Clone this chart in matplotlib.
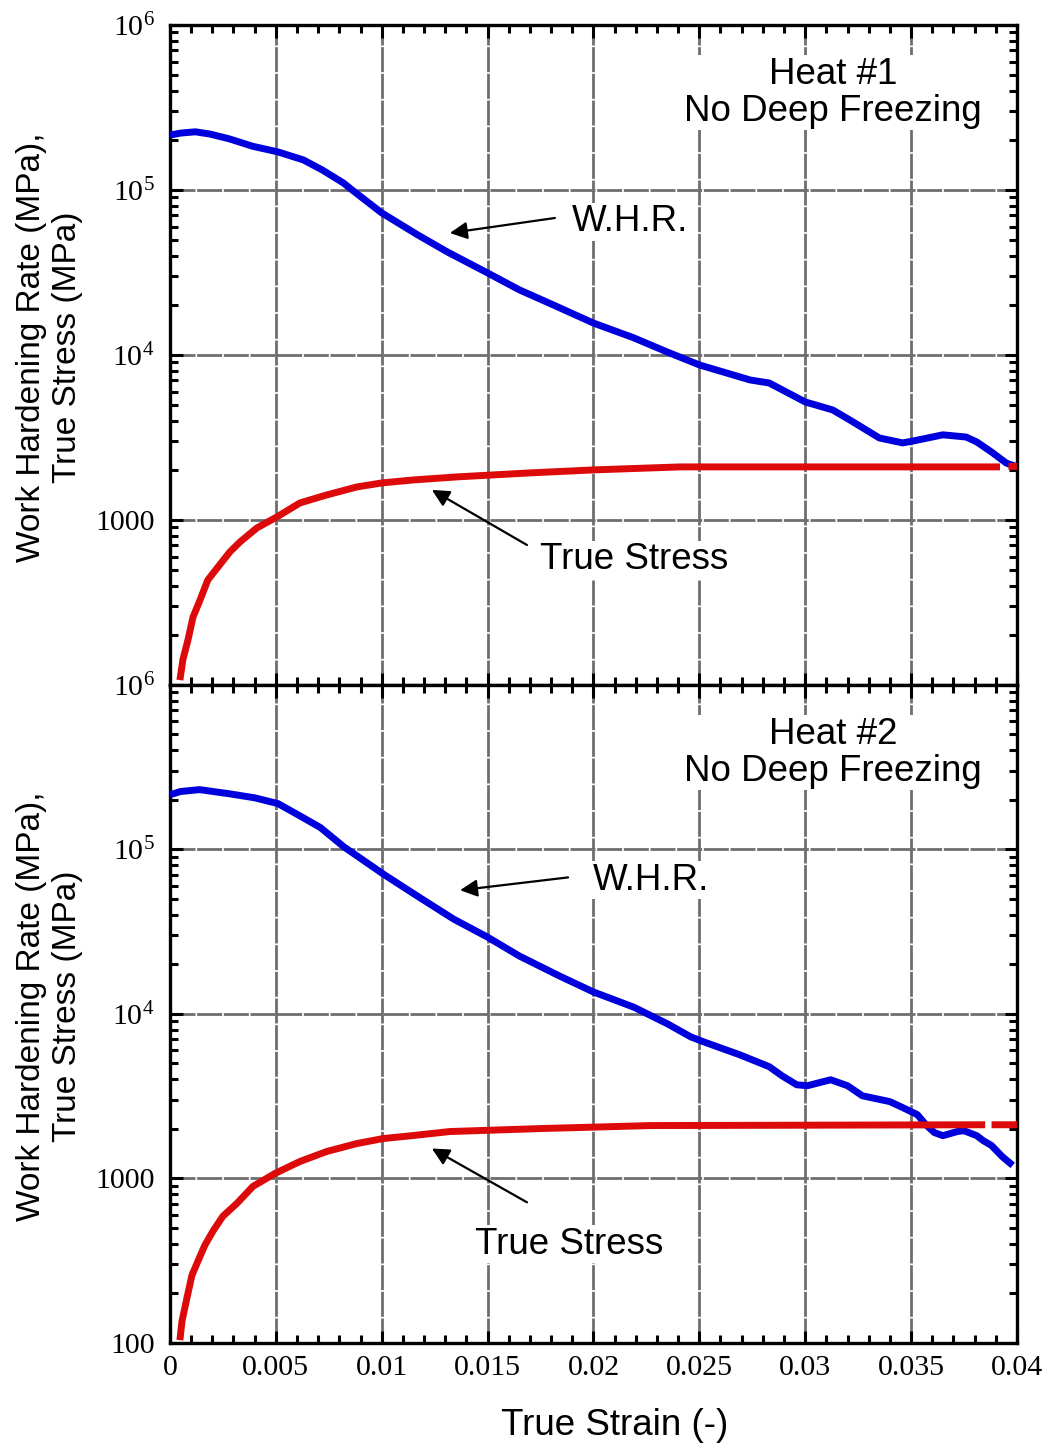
import numpy as np
import matplotlib
matplotlib.use("Agg")
import matplotlib.pyplot as plt
from matplotlib.ticker import LogLocator, MultipleLocator, FixedLocator, FuncFormatter, NullFormatter

plt.rcParams['mathtext.fontset'] = 'custom'
plt.rcParams['mathtext.rm'] = 'Liberation Serif'
plt.rcParams['mathtext.it'] = 'Liberation Serif:italic'

# Heat #1 work hardening rate (MPa) vs true strain
strain_whr1 = [0.0, 0.0005, 0.0012, 0.0019, 0.0028, 0.0039, 0.0051, 0.0063, 0.0072, 0.0082,
               0.0086, 0.0100, 0.0117, 0.0131, 0.0150, 0.0165, 0.0181, 0.0200, 0.0219, 0.0235,
               0.0250, 0.0274, 0.0283, 0.0300, 0.0313, 0.0321, 0.0335, 0.0346, 0.0351, 0.0365,
               0.0376, 0.0381, 0.0388, 0.0395, 0.0400]
whr1 = [215000, 221000, 225000, 218000, 204000, 184000, 170000, 152000, 132000, 110000,
        100000, 72600, 53400, 42100, 31400, 24800, 20100, 15600, 12700, 10400,
        8700, 7050, 6760, 5190, 4640, 4040, 3140, 2930, 3010, 3280,
        3180, 2970, 2580, 2210, 2100]

# Heat #1 true stress (MPa)
strain_ts1 = [0.00047, 0.00061, 0.00085, 0.00109, 0.00142, 0.00179, 0.00227, 0.00283, 0.00331,
              0.00411, 0.00505, 0.00614, 0.00741, 0.00883, 0.01001, 0.01148, 0.01355, 0.0170,
              0.0200, 0.0241, 0.0392, np.nan, 0.0396, 0.0400]
ts1 = [107, 142, 187, 258, 327, 433, 519, 640, 736,
       895, 1043, 1268, 1418, 1585, 1676, 1747, 1823, 1928,
       2010, 2096, 2096, np.nan, 2110, 2110]

# Heat #2 work hardening rate (MPa)
strain_whr2 = [0.0, 0.0005, 0.0014, 0.0028, 0.0040, 0.0051, 0.0061, 0.0071, 0.0082, 0.0101,
               0.0117, 0.0134, 0.0150, 0.0165, 0.0184, 0.0200, 0.0219, 0.0235, 0.0246, 0.0252,
               0.0269, 0.0283, 0.0289, 0.0296, 0.0301, 0.0312, 0.0320, 0.0327, 0.0340, 0.0347,
               0.0353, 0.0357, 0.0361, 0.0365, 0.0372, 0.0375, 0.0381, 0.0384, 0.0388, 0.0393,
               0.0398]
whr2 = [215000, 225000, 231000, 218000, 206000, 190000, 161000, 136000, 104000, 70500,
        51900, 37700, 29300, 22500, 17000, 13600, 11000, 8700, 7250, 6770,
        5650, 4780, 4210, 3710, 3660, 3980, 3660, 3180, 2930, 2660,
        2440, 2120, 1900, 1820, 1930, 1950, 1820, 1700, 1585, 1360,
        1200]

# Heat #2 true stress (MPa)
strain_ts2 = [0.00047, 0.00057, 0.00080, 0.00104, 0.00132, 0.00165, 0.00203, 0.00250, 0.00316,
              0.00392, 0.00496, 0.00614, 0.00741, 0.00883, 0.01006, 0.01148, 0.01322, 0.0175,
              0.0227, 0.0385, np.nan, 0.0388, 0.0400]
ts2 = [104, 136, 187, 258, 314, 393, 478, 589, 705,
       895, 1072, 1268, 1459, 1630, 1747, 1823, 1928, 2010,
       2096, 2120, np.nan, 2120, 2120]

heat_labels = ["Heat #1\nNo Deep Freezing", "Heat #2\nNo Deep Freezing"]
x_ticks = [0, 0.005, 0.01, 0.015, 0.02, 0.025, 0.03, 0.035, 0.04]

BLUE = '#0000DC'
RED = '#DC0A0A'
sans = ['Liberation Sans', 'DejaVu Sans']
serif = ['Liberation Serif', 'DejaVu Serif']
TXT = 26.5


def ylab(v, pos):
    if v >= 1e4:
        return r'$10^{%d}$' % int(round(np.log10(v)))
    return '%d' % int(round(v))


def style_axes(ax, hide_bottom_label):
    ax.set_yscale('log')
    ax.set_xlim(0, 0.04)
    ax.set_ylim(100, 1e6)
    ax.yaxis.set_major_locator(FixedLocator([100, 1000, 1e4, 1e5, 1e6]))
    ax.yaxis.set_minor_locator(LogLocator(base=10, subs=np.arange(2, 10), numticks=20))
    ax.yaxis.set_minor_formatter(NullFormatter())
    if hide_bottom_label:
        ax.yaxis.set_major_formatter(FuncFormatter(lambda v, p: '' if v < 500 else ylab(v, p)))
    else:
        ax.yaxis.set_major_formatter(FuncFormatter(ylab))
    ax.xaxis.set_major_locator(FixedLocator(x_ticks))
    ax.xaxis.set_minor_locator(MultipleLocator(0.001))
    ax.xaxis.set_major_formatter(FuncFormatter(lambda v, p: '%g' % round(v, 4)))
    ax.tick_params(which='both', direction='in', top=True, right=True, width=2.2, color='black')
    ax.tick_params(which='major', length=9)
    ax.tick_params(which='minor', length=6)
    ax.tick_params(axis='y', which='major', pad=11)
    ax.tick_params(axis='x', which='major', pad=9)
    for lab in ax.get_xticklabels() + ax.get_yticklabels():
        lab.set_fontfamily(serif)
        lab.set_fontsize(21.5)
    for s in ax.spines.values():
        s.set_linewidth(2.4)
    ax.grid(True, which='major', color='#6e6e6e', linewidth=2.0, linestyle=(0, (9, 0.6)))
    ax.set_axisbelow(True)
    ax.set_ylabel('Work Hardening Rate (MPa),\nTrue Stress (MPa)', fontsize=24,
                  family=sans, linespacing=1.2, va='center')
    ax.yaxis.set_label_coords(-0.142, 0.512)


def arrow_text(ax, text, xy, xytext, text_xy, ha):
    ax.annotate('', xy=xy, xytext=xytext,
                arrowprops=dict(arrowstyle='-|>', color='black', lw=1.6, mutation_scale=26,
                                shrinkA=0, shrinkB=0))
    ax.text(text_xy[0], text_xy[1], text, fontsize=TXT, family=sans, ha=ha, va='center',
            bbox=dict(facecolor='white', edgecolor='none', pad=1), zorder=4)


fig = plt.figure(figsize=(10.51, 14.49), dpi=100)
ax1 = fig.add_axes([0.1617, 0.5273, 0.8059, 0.4555])
ax2 = fig.add_axes([0.1617, 0.0732, 0.8059, 0.4541])

for ax, sw, w, st, s, hide in [(ax1, strain_whr1, whr1, strain_ts1, ts1, True),
                               (ax2, strain_whr2, whr2, strain_ts2, ts2, False)]:
    ax.plot(sw, w, color=BLUE, lw=5.0, solid_capstyle='butt', zorder=3)
    ax.plot(st, s, color=RED, lw=5.0, solid_capstyle='butt', zorder=3)
    style_axes(ax, hide)

ax1.tick_params(labelbottom=False)

for ax, lab in zip([ax1, ax2], heat_labels):
    ax.text(0.783, 0.897, lab, transform=ax.transAxes, fontsize=TXT, family=sans,
            ha='center', va='center', linespacing=1.08,
            bbox=dict(facecolor='white', edgecolor='none', pad=1), zorder=4)

arrow_text(ax1, 'W.H.R.', (0.01322, 54800), (0.01818, 67600), (0.01898, 64000), 'left')
arrow_text(ax1, 'True Stress', (0.01237, 1520), (0.01686, 705), (0.02191, 573), 'center')
arrow_text(ax2, 'W.H.R.', (0.0137, 56500), (0.0188, 67600), (0.01998, 64900), 'left')
arrow_text(ax2, 'True Stress', (0.01237, 1520), (0.01686, 716), (0.01884, 398), 'center')

ax2.set_xlabel('True Strain (-)', fontsize=TXT, family=sans, va='center')
ax2.xaxis.set_label_coords(0.525, -0.125)

fig.savefig('out.png', dpi=100)
